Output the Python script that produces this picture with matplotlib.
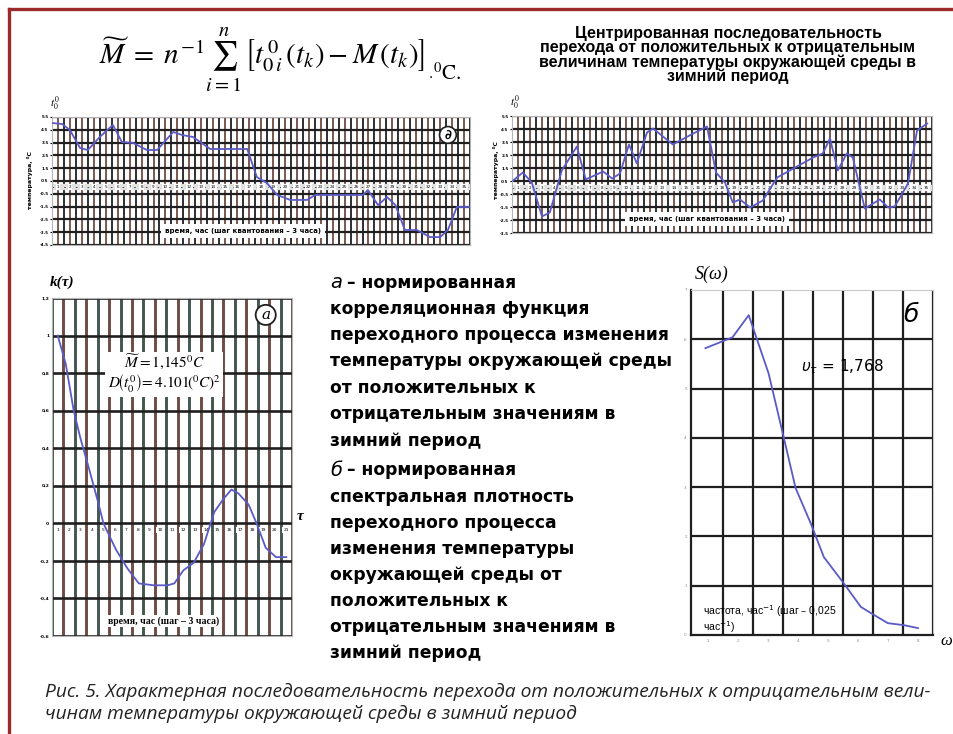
import matplotlib
matplotlib.use("Agg")
import matplotlib.pyplot as plt
from matplotlib.lines import Line2D

W, H = 954, 734

# --- top-left: t0 (time steps, 3 h each) ---
tl_x = [0, 1.7, 3.0, 4.7, 6.0, 8.0, 10.2, 11.7, 13.6, 15.9, 17.6, 20.3, 21.8, 23.6, 26.5,
        32.7, 34.3, 36.0, 37.7, 39.9, 42.7, 44.1, 52.1, 52.9, 54.6, 56.1, 57.5, 59.1,
        61.1, 63.3, 65.0, 66.3, 67.8, 70.0]
tl_y = [5.03, 4.95, 4.48, 3.08, 2.92, 3.94, 4.88, 3.55, 3.47, 2.92, 2.92, 4.33, 4.09, 3.94,
        3.0, 3.0, 0.81, 0.34, -0.59, -0.98, -0.98, -0.59, -0.59, -0.2, -1.38, -0.75, -1.38,
        -3.33, -3.33, -3.88, -3.88, -3.33, -1.53, -1.53]

# --- top-right: centred sequence ---
tr_x = [0.2, 1.8, 3.3, 5.0, 6.3, 8.3, 10.8, 12.3, 15.2, 16.7, 18.0, 19.5, 20.8, 22.5, 23.5,
        26.8, 30.2, 32.5, 34.0, 35.5, 36.8, 38.0, 39.7, 41.8, 44.2, 50.2, 51.8, 53.0, 54.3,
        55.8, 56.8, 58.8, 61.3, 62.7, 63.8, 66.0, 67.5, 69.2]
tr_y = [0.54, 1.15, 0.38, -2.23, -1.92, 1.31, 3.15, 0.62, 1.23, 0.69, 1.08, 3.31, 1.85, 4.23,
        4.54, 3.31, 4.15, 4.69, 1.15, 0.38, -1.15, -0.92, -1.54, -1.0, 0.77, 2.31, 2.62, 3.77,
        1.31, 2.62, 2.31, -1.62, -0.92, -1.54, -1.46, 0.31, 4.38, 4.92]

# --- bottom-left: normalised correlation function k(tau) ---
k_tau = [1.0, 1.7, 2.4, 3.0, 3.7, 4.5, 5.0, 6.1, 7.1, 8.1, 9.4, 10.6, 11.2, 12.0, 12.9,
         13.8, 14.7, 15.5, 16.2, 16.8, 17.7, 18.4, 19.2, 20.1, 21.0]
k_val = [1.0, 0.85, 0.60, 0.45, 0.30, 0.12, 0.0, -0.14, -0.24, -0.32, -0.33, -0.33, -0.32,
         -0.25, -0.21, -0.11, 0.06, 0.13, 0.18, 0.16, 0.10, 0.0, -0.13, -0.18, -0.18]

# --- bottom-right: normalised spectral density S(w) ---
s_w = [0.93, 1.83, 2.37, 3.03, 3.53, 3.93, 4.43, 4.87, 5.53, 6.1, 6.53, 7.0, 7.53, 8.0]
s_val = [5.82, 6.04, 6.49, 5.31, 4.02, 2.98, 2.27, 1.58, 1.05, 0.57, 0.41, 0.24, 0.20, 0.14]

k_yticks = [1.2, 1.0, 0.8, 0.6, 0.4, 0.2, 0, -0.2, -0.4, -0.6]

title_tr = ("Центрированная последовательность\n"
            "перехода от положительных к отрицательным\n"
            "величинам температуры окружающей среды в\n"
            "зимний период")
lines_a = ["корреляционная функция", "переходного процесса изменения",
           "температуры окружающей среды", "от положительных к",
           "отрицательным значениям в", "зимний период"]
lines_b = ["спектральная плотность", "переходного процесса", "изменения температуры",
           "окружающей среды от", "положительных к", "отрицательным значениям в",
           "зимний период"]
caption = ("Рис. 5. Характерная последовательность перехода от положительных к отрицательным вели-\n"
           "чинам температуры окружающей среды в зимний период")

LINE = "#5a5ac8"
DARK = "#1f1f1f"
BROWN = "#6e4c44"
TEAL = "#45554f"

fig = plt.figure(figsize=(W / 100, H / 100), dpi=100)


def px_axes(l, t, r, b):
    return fig.add_axes([l / W, 1 - b / H, (r - l) / W, (b - t) / H])


def ftext(x, y, s, **kw):
    return fig.text(x / W, 1 - y / H, s, **kw)


# frame
fig.add_artist(Line2D([9 / W, 1], [1 - 9 / H, 1 - 9 / H], color="#9b2a2a", lw=2.4))
fig.add_artist(Line2D([9 / W, 9 / W], [0, 1 - 9 / H], color="#9b2a2a", lw=2.4))

# formula
ftext(262, 60, r"$\widetilde{M}\;=\;n^{-1}\sum_{i=1}^{n}\,\left[t^{\,0}_{0\,i}\,(t_{k})-M\,(t_{k})\right]$",
      fontsize=21, math_fontfamily="stix", ha="center", va="center")
ftext(428, 71, r"$_{\cdot}{}^{0}\mathrm{C}.$", fontsize=15, math_fontfamily="stix",
      ha="left", va="center")

# top-right title
ftext(728, 55, title_tr, fontsize=11.5, fontweight="bold", family="Liberation Sans",
      ha="center", va="center", linespacing=0.92)


def top_chart(ax, xs, ys, ylo, yhi, label_box_x):
    ax.set_xlim(0, 70)
    ax.set_ylim(ylo, yhi)
    for i in range(71):
        ax.axvline(i, color=DARK if i % 2 == 0 else BROWN, lw=1.3, zorder=1)
    yt = [ylo + k for k in range(int(yhi - ylo) + 1)]
    for v in yt:
        ax.axhline(v, color=DARK, lw=1.6, zorder=1)
    ax.set_yticks(yt)
    ax.set_yticklabels(["%g" % v for v in yt], fontsize=3, fontweight="bold")
    ax.set_xticks([])
    ax.tick_params(axis="y", length=1.5, pad=1)
    for sp in ax.spines.values():
        sp.set_color("#b5b5b5")
    ax.axhline(0, color="#e2e2e2", lw=4.5, zorder=2)
    ax.axhline(0, color="#333333", lw=0.6, ls=(0, (2, 5)), zorder=2)
    for n, xv in enumerate(range(1, 70, 2)):
        ax.text(xv, 0, str(n + 1), fontsize=3, ha="center", va="center", zorder=3,
                bbox=dict(boxstyle="square,pad=0.25", fc="white", ec="none"))
    ax.plot(xs, ys, color=LINE, lw=1.3, zorder=4)
    ax.text(label_box_x, ylo + 1.1, "время, час (шаг квантования – 3 часа)", fontsize=5,
            fontweight="bold", ha="center", va="center", zorder=3,
            bbox=dict(boxstyle="square,pad=0.6", fc="white", ec="none"))


ax1 = px_axes(52, 117, 470, 245)
top_chart(ax1, tl_x, tl_y, -4.5, 5.5, 32)
ax1.text(66.3, 4.1, "∂", fontsize=9, fontweight="bold", ha="center", va="center", zorder=5,
         bbox=dict(boxstyle="circle,pad=0.15", fc="white", ec=DARK, lw=1.2))
ftext(55, 104, r"$t_0^0$", fontsize=8, math_fontfamily="stix", ha="center", va="center")
ftext(30, 180, "температура, ⁰С", fontsize=4.5, fontweight="bold", rotation=90,
      ha="center", va="center")

ax2 = px_axes(512, 116, 932, 233)
top_chart(ax2, tr_x, tr_y, -3.5, 5.5, 32.5)
ftext(515, 103, r"$t_0^0$", fontsize=8, math_fontfamily="stix", ha="center", va="center")
ftext(496, 170, "температура, ⁰С", fontsize=4.5, fontweight="bold", rotation=90,
      ha="center", va="center")

# bottom-left: correlation function
ax3 = px_axes(52, 298, 292, 636)
ax3.set_xlim(0.5, 21.5)
ax3.set_ylim(-0.6, 1.2)
for i in range(22):
    ax3.axvline(0.5 + i, color=TEAL if i % 2 == 0 else BROWN, lw=2.1, zorder=1)
for v in k_yticks:
    ax3.axhline(v, color=DARK, lw=1.9, zorder=1)
ax3.set_yticks(k_yticks)
ax3.set_yticklabels([("%g" % v).replace(".", ",") for v in k_yticks], fontsize=3.2,
                    fontweight="bold")
ax3.set_xticks([])
ax3.tick_params(axis="y", length=0, pad=2)
for sp in ax3.spines.values():
    sp.set_color("#b5b5b5")
for n in range(1, 22):
    ax3.text(n, -0.035, str(n), fontsize=3.2, ha="center", va="center", zorder=3,
             bbox=dict(boxstyle="square,pad=0.3", fc="white", ec="none"))
ax3.plot(k_tau, k_val, color=LINE, lw=1.3, zorder=4)
ax3.text(10.3, 0.8, r"$\widetilde{M}=1{,}145^{0}C$" + "\n" +
         r"$D\!\left(t_0^{0}\right)\!=4.101\!\left({}^{0}C\right)^{2}$",
         fontsize=11, math_fontfamily="stix", ha="center", va="center", zorder=5,
         linespacing=1.1, bbox=dict(boxstyle="square,pad=0.15", fc="white", ec="none"))
ax3.text(19.2, 1.11, "а", fontsize=11, style="italic", family="DejaVu Serif",
         ha="center", va="center", zorder=5,
         bbox=dict(boxstyle="circle,pad=0.2", fc="white", ec=DARK, lw=1.3))
ax3.text(10.3, -0.52, "время, час (шаг – 3 часа)", fontsize=7, fontweight="bold",
         family="Liberation Serif", ha="center", va="center", zorder=5,
         bbox=dict(boxstyle="square,pad=0.15", fc="white", ec="none"))
ftext(62, 282, "k(τ)", fontsize=11, fontweight="bold", style="italic",
      family="Liberation Serif", ha="center", va="center")
ftext(300, 516, "τ", fontsize=11, fontweight="bold", style="italic",
      family="Liberation Serif", ha="center", va="center")

# bottom-right: spectral density
ax4 = px_axes(691, 290, 933, 635)
ax4.set_xlim(0.45, 8.5)
ax4.set_ylim(0, 7)
for i in range(1, 9):
    ax4.axvline(0.5 + i, color=DARK, lw=1.6, zorder=1)
for v in range(1, 7):
    ax4.axhline(v, color=DARK, lw=1.6, zorder=1)
ax4.set_xticks(range(1, 9))
ax4.set_xticklabels([str(i) for i in range(1, 9)], fontsize=3, color="#888888")
ax4.set_yticks(range(0, 8))
ax4.set_yticklabels([str(i) for i in range(0, 8)], fontsize=3, color="#888888")
ax4.tick_params(length=0, pad=3)
ax4.spines["left"].set_color(DARK)
ax4.spines["left"].set_linewidth(1.6)
ax4.spines["bottom"].set_color(DARK)
ax4.spines["bottom"].set_linewidth(1.6)
ax4.spines["top"].set_color("#c8c8c8")
ax4.spines["right"].set_color("#c8c8c8")
ax4.plot(s_w, s_val, color=LINE, lw=1.3, zorder=4)
ax4.text(7.75, 6.5, "б", fontsize=18, style="italic", family="DejaVu Sans",
         ha="center", va="center")
ax4.text(5.5, 5.45, r"$\upsilon_{\tau}$ = 1,768", fontsize=11, math_fontfamily="dejavusans",
         family="DejaVu Sans", ha="center", va="center")
ax4.text(0.85, 0.33, "частота, час$^{-1}$ (шаг – 0,025\nчас$^{-1}$)", fontsize=7.5,
         family="Liberation Sans", ha="left", va="center", linespacing=1.0, zorder=5)
ftext(712, 274, "S(ω)", fontsize=13, style="italic", family="Liberation Serif",
      ha="center", va="center")
ftext(946, 641, "ω", fontsize=12, style="italic", family="Liberation Serif",
      ha="center", va="center")

# middle description
FONT_MID = dict(fontsize=12.3, fontweight="bold", family="DejaVu Sans", va="center", ha="left")
ya = [283, 309, 335, 361, 388, 414, 441]
yb = [470, 497, 523, 549, 575, 601, 627, 653]
ftext(330, ya[0], "а", fontsize=14, style="italic", family="DejaVu Sans", va="center", ha="left")
ftext(347, ya[0], "– нормированная", **FONT_MID)
for y, s in zip(ya[1:], lines_a):
    ftext(330, y, s, **FONT_MID)
ftext(330, yb[0], "б", fontsize=14, style="italic", family="DejaVu Sans", va="center", ha="left")
ftext(347, yb[0], "– нормированная", **FONT_MID)
for y, s in zip(yb[1:], lines_b):
    ftext(330, y, s, **FONT_MID)

# caption
ftext(45, 703, caption, fontsize=13.8, style="italic", family="Open Sans",
      ha="left", va="center", linespacing=1.3, color="#222222")

fig.savefig("out.png", dpi=100)
